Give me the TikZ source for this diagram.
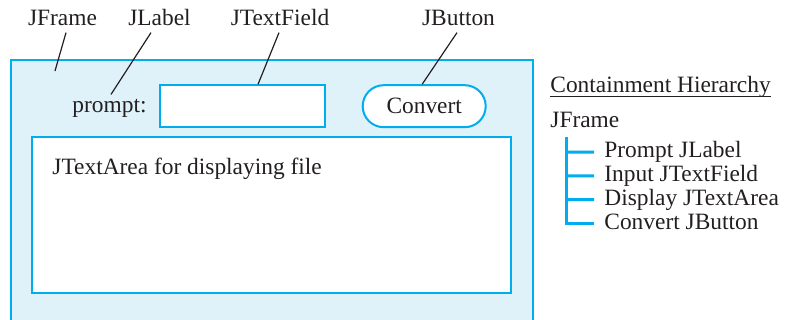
\documentclass[tikz,border=0pt]{standalone}
\usepackage{fontspec}
\setmainfont{Liberation Serif}
\usetikzlibrary{positioning}

\definecolor{framefill}{RGB}{223,242,250}
\definecolor{swingblue}{RGB}{0,174,239}
\definecolor{inktext}{RGB}{35,31,32}

\begin{document}
\begin{tikzpicture}[x=0.5pt, y=-0.5pt, font=\fontsize{11.7}{14}\selectfont, text=inktext,
    compbox/.style={draw=swingblue, fill=white, line width=1pt, inner sep=0pt},
    lbl/.style={anchor=base, inner sep=3pt},
    leader/.style={draw=inktext, line width=0.6pt},
    treeline/.style={draw=swingblue, line width=1.5pt},
    item/.style={anchor=base west, inner sep=0pt}]
  \clip (0,0) rectangle (786,320);
  % window frame, open at the bottom
  \fill[framefill] (11,60) rectangle (533,330);
  \draw[swingblue, line width=1pt] (11,330) -- (11,60) -- (533,60) -- (533,330);
  \coordinate (frame-pt) at (55,71);
  % components
  \node[anchor=base, inner sep=2.5pt] (prompt) at (109.5,113) {prompt:};
  \node[compbox, minimum width=82.2pt, minimum height=20.85pt] (field) at (242.5,106.2) {};
  \node[compbox, minimum width=61.5pt, minimum height=21pt, rounded corners=10.5pt] (btn) at (424.2,106.2) {Convert};
  \node[compbox, minimum width=239.5pt, minimum height=77.7pt] (area) at (271.8,215) {};
  \node[item] (area-text) at (52,175) {JTextArea for displaying file};
  % class labels
  \node[lbl] (jf-lbl) at (62.5,26) {JFrame};
  \node[lbl] (jl-lbl) at (159.5,26) {JLabel};
  \node[lbl] (jt-lbl) at (280,26) {JTextField};
  \node[lbl] (jb-lbl) at (458.5,26) {JButton};
  \draw[leader] ([xshift=1.75pt]jf-lbl.south) -- (frame-pt);
  \draw[leader] ([xshift=-4.25pt]jl-lbl.south) -- ([xshift=0.75pt]prompt.north);
  \draw[leader] ([xshift=-0.5pt]jt-lbl.south) -- ([xshift=7.75pt]field.north);
  \draw[leader] ([xshift=-0.75pt]jb-lbl.south) -- ([xshift=-1pt]btn.north);
  % containment hierarchy
  \node[item] (hier) at (550,93) {Containment Hierarchy};
  \draw[inktext, line width=0.5pt] ([yshift=-1.6pt]hier.base west) -- ([yshift=-1.6pt]hier.base east);
  \node[item] (root) at (550,128) {JFrame};
  \coordinate (trunk) at (566,137);
  \node[item] (it1) at (604,158) {Prompt JLabel};
  \node[item] (it2) at (604,181.7) {Input JTextField};
  \node[item] (it3) at (604,205.4) {Display JTextArea};
  \node[item] (it4) at (604,229) {Convert JButton};
  \draw[treeline] (trunk) |- ([xshift=-5pt, yshift=2.9pt]it4.base west);
  \draw[treeline] (trunk |- it1.base) ++(0,-5.9) -- ([xshift=-5pt, yshift=2.9pt]it1.base west);
  \draw[treeline] (trunk |- it2.base) ++(0,-5.9) -- ([xshift=-5pt, yshift=2.9pt]it2.base west);
  \draw[treeline] (trunk |- it3.base) ++(0,-5.9) -- ([xshift=-5pt, yshift=2.9pt]it3.base west);
\end{tikzpicture}
\end{document}
